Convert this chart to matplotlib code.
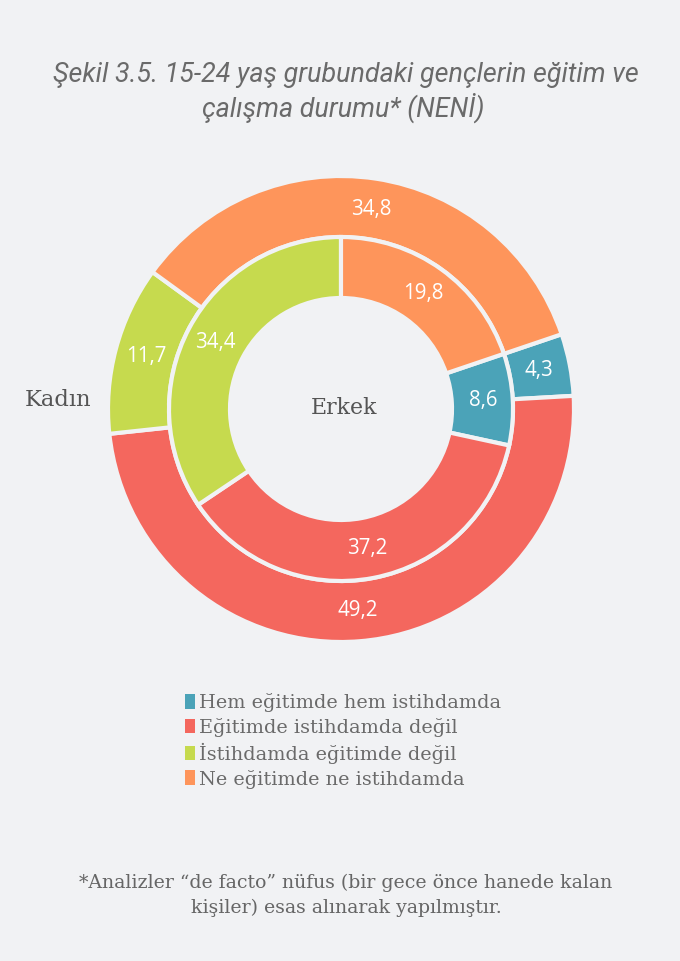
import matplotlib
matplotlib.use("Agg")
import matplotlib.pyplot as plt
from matplotlib.patches import Patch

categories = ["Hem eğitimde hem istihdamda", "Eğitimde istihdamda değil",
              "İstihdamda eğitimde değil", "Ne eğitimde ne istihdamda"]
kadin = [4.3, 49.2, 11.7, 34.8]
erkek = [8.6, 37.2, 34.4, 19.8]
colors = ["#4ba3b8", "#f4675e", "#c6da4e", "#fe955b"]

BG = "#f1f2f4"
W, H = 680, 961
fig = plt.figure(figsize=(W / 100, H / 100), dpi=100, facecolor=BG)
ax = fig.add_axes([0, 0, 1, 1])
ax.set_facecolor(BG)

cx, cy = 341, H - 409
start = 90 - erkek[-1] / sum(erkek) * 360

def fmt(v):
    return f"{v:.1f}".replace(".", ",")

num_font = dict(family="Open Sans", size=14.8, color="white")

w1, t1 = ax.pie(kadin, radius=233, center=(cx, cy), startangle=start,
                counterclock=False, colors=colors,
                labels=[fmt(v) for v in kadin], labeldistance=202 / 233,
                textprops=num_font,
                wedgeprops=dict(width=61, edgecolor=BG, linewidth=3))
w2, t2 = ax.pie(erkek, radius=172, center=(cx, cy), startangle=start,
                counterclock=False, colors=colors,
                labels=[fmt(v) for v in erkek], labeldistance=142 / 172,
                textprops=num_font,
                wedgeprops=dict(width=61, edgecolor=BG, linewidth=3))
for t in list(t1) + list(t2):
    t.set_ha("center")
    t.set_va("center")

ax.set_xlim(0, W)
ax.set_ylim(0, H)
ax.set_aspect("auto")
ax.axis("off")

serif = "DejaVu Serif"
ax.text(cx + 3, H - 408, "Erkek", family=serif, size=15.8, color="#555555",
        ha="center", va="center")
ax.text(58, H - 400, "Kadın", family=serif, size=16.3, color="#555555",
        ha="center", va="center")

title_kw = dict(family="Roboto", style="italic", size=19.4, color="#6a6a6a",
                ha="center", va="center")
ax.text(346, H - 75, "Şekil 3.5. 15-24 yaş grubundaki gençlerin eğitim ve", **title_kw)
ax.text(343, H - 108, "çalışma durumu* (NENİ)", **title_kw)

handles = [Patch(facecolor=c, edgecolor="none") for c in colors]
leg = fig.legend(handles, categories, loc="upper left",
                 bbox_to_anchor=(185 / W, 1 - 693 / H), frameon=False,
                 prop=dict(family=serif, size=13.9), labelcolor="#6a6a6a",
                 handlelength=0.5, handleheight=0.8, handletextpad=0.25,
                 labelspacing=0.3, borderpad=0, borderaxespad=0)

foot_kw = dict(family=serif, size=13.6, color="#666666", ha="center", va="center")
ax.text(346, H - 883, "*Analizler “de facto” nüfus (bir gece önce hanede kalan", **foot_kw)
ax.text(346, H - 908, "kişiler) esas alınarak yapılmıştır.", **foot_kw)

fig.savefig("out.png", dpi=100, facecolor=BG)
